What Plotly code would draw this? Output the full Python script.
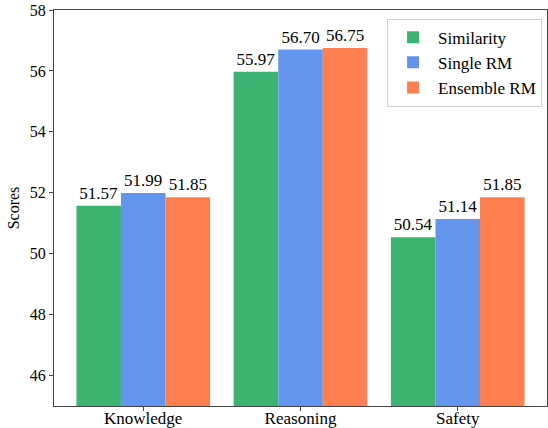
import plotly.graph_objects as go

categories = ["Knowledge", "Reasoning", "Safety"]
similarity = [51.57, 55.97, 50.54]
single_rm = [51.99, 56.70, 51.14]
ensemble_rm = [51.85, 56.75, 51.85]
series_names = ["Similarity", "Single RM", "Ensemble RM"]
colors = ["#3CB371", "#6495ED", "#FF7F50"]

FONT = "'Liberation Serif', 'Times New Roman', Times, 'DejaVu Serif', serif"

fig = go.Figure()
for name, vals, col in zip(series_names, [similarity, single_rm, ensemble_rm], colors):
    fig.add_trace(go.Bar(
        x=categories, y=vals, name=name, marker=dict(color=col, line=dict(width=0)),
        text=[f"{v:.2f}" for v in vals], textposition="outside",
        textfont=dict(family=FONT, size=17, color="black"),
        cliponaxis=False,
    ))

fig.update_layout(
    width=548, height=428,
    margin=dict(l=54, r=1, t=10, b=22),
    paper_bgcolor="white", plot_bgcolor="white",
    barmode="group", bargap=0.15, bargroupgap=0,
    font=dict(family=FONT, size=16, color="black"),
    legend=dict(
        x=0.99, y=0.978, xanchor="right", yanchor="top",
        bgcolor="white", bordercolor="#d0d0d0", borderwidth=1,
        font=dict(family=FONT, size=17), itemwidth=40,
        tracegroupgap=0,
    ),
    showlegend=True,
)
fig.update_xaxes(
    range=[-0.5675, 2.5675], automargin=False,
    showline=True, linecolor="#444", linewidth=1, mirror=True,
    ticks="outside", ticklen=4, tickcolor="#444", ticklabelstandoff=-7,
    showgrid=False, tickfont=dict(family=FONT, size=17),
)
fig.update_yaxes(
    range=[45, 58], dtick=2, tick0=46, automargin=False,
    showline=True, linecolor="#444", linewidth=1, mirror=True,
    ticks="outside", ticklen=4, tickcolor="#444",
    showgrid=False, zeroline=False,
    tickfont=dict(family=FONT, size=16),
    title=dict(text="Scores", font=dict(family=FONT, size=16), standoff=6),
)

fig.write_html("out.html", config={"displayModeBar": False},
               post_script="document.body.style.margin='0';")
